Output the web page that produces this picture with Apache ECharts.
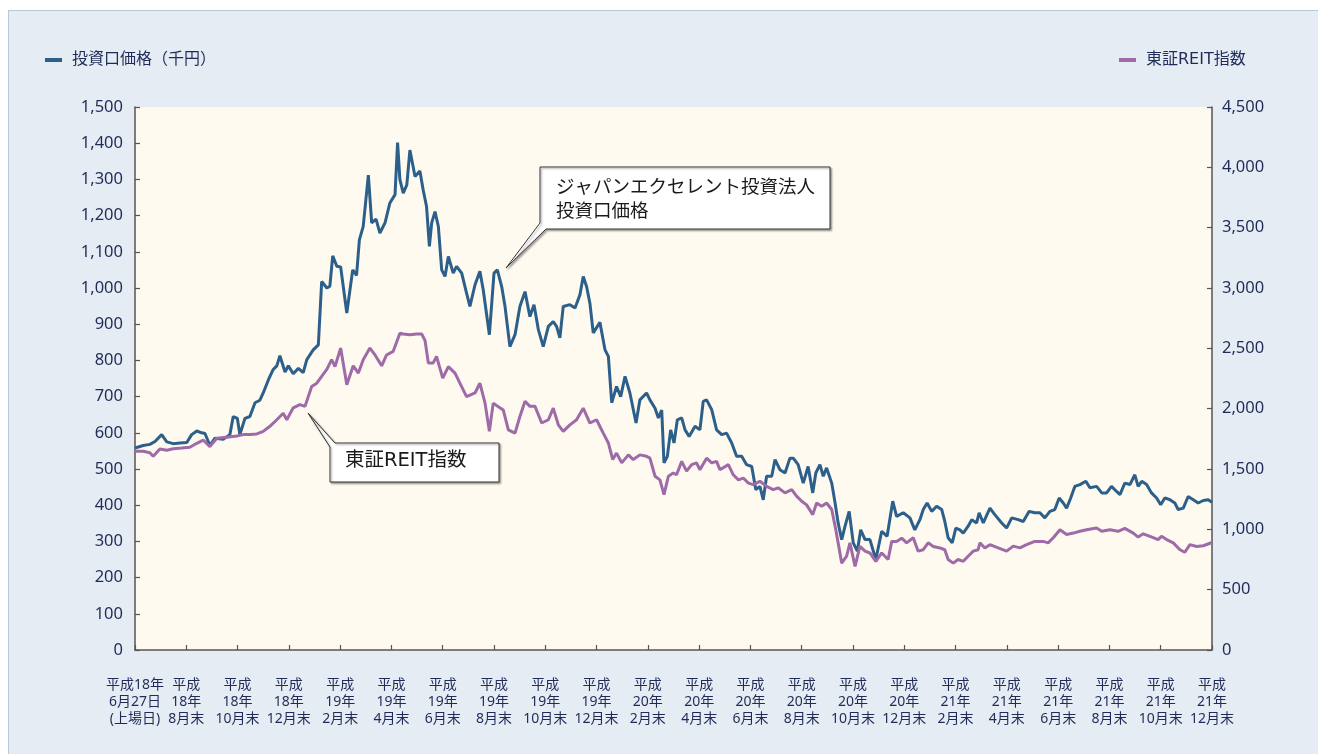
<!DOCTYPE html>
<html>
<head>
<meta charset="utf-8">
<script src="https://cdn.jsdelivr.net/npm/echarts@6/dist/echarts.min.js"></script>
<style>
  html, body { margin: 0; padding: 0; background: #ffffff; }
  #frame {
    position: absolute; left: 8px; top: 10px; width: 1310px; height: 744px;
    background: #e5ecf4; border-left: 1px solid #b9c8d6; border-top: 1px solid #b9c8d6;
    box-sizing: border-box;
  }
  #chart { position: absolute; left: 0; top: 0; width: 1318px; height: 754px; }
</style>
</head>
<body>
<div id="frame"></div>
<div id="chart"></div>
<script>
// x positions are months since listing (6/27); each label is 2 months apart
const xLabels = [
  "平成18年\n6月27日\n(上場日)",
  "平成\n18年\n8月末", "平成\n18年\n10月末", "平成\n18年\n12月末",
  "平成\n19年\n2月末", "平成\n19年\n4月末", "平成\n19年\n6月末", "平成\n19年\n8月末",
  "平成\n19年\n10月末", "平成\n19年\n12月末",
  "平成\n20年\n2月末", "平成\n20年\n4月末", "平成\n20年\n6月末", "平成\n20年\n8月末",
  "平成\n20年\n10月末", "平成\n20年\n12月末",
  "平成\n21年\n2月末", "平成\n21年\n4月末", "平成\n21年\n6月末", "平成\n21年\n8月末",
  "平成\n21年\n10月末", "平成\n21年\n12月末"
];

// 投資口価格 (千円)
const priceData = [
  [0,558],[0.32,565],[0.58,568],[0.78,576],[1.04,595],[1.24,575],[1.49,570],[1.75,572],[2.02,573],
  [2.21,595],[2.41,605],[2.60,600],[2.73,598],[2.92,565],[3.12,585],[3.44,582],[3.70,595],[3.83,645],
  [3.99,640],[4.09,595],[4.29,640],[4.48,645],[4.68,683],[4.87,690],[5.00,710],[5.20,746],[5.39,775],
  [5.53,785],[5.65,813],[5.85,768],[5.98,785],[6.17,763],[6.37,778],[6.56,766],[6.70,802],[6.95,829],
  [7.15,843],[7.28,1018],[7.48,1000],[7.60,1005],[7.71,1089],[7.87,1060],[8.02,1058],[8.26,931],
  [8.49,1050],[8.64,1035],[8.75,1133],[8.90,1170],[9.10,1312],[9.23,1180],[9.40,1190],[9.55,1152],
  [9.75,1180],[9.94,1235],[10.14,1258],[10.24,1402],[10.33,1300],[10.46,1262],[10.60,1285],[10.72,1381],
  [10.92,1308],[11.11,1323],[11.24,1270],[11.37,1225],[11.48,1115],[11.57,1180],[11.70,1211],[11.83,1170],
  [11.96,1050],[12.09,1032],[12.22,1087],[12.41,1041],[12.54,1060],[12.74,1041],[12.93,986],[13.06,949],
  [13.26,1009],[13.45,1046],[13.58,995],[13.82,871],[14.00,1041],[14.13,1050],[14.30,1004],[14.43,949],
  [14.62,838],[14.82,871],[15.01,949],[15.21,990],[15.40,921],[15.56,954],[15.73,885],[15.92,838],
  [16.12,894],[16.31,907],[16.44,894],[16.57,862],[16.70,949],[16.96,954],[17.16,945],[17.35,981],
  [17.48,1032],[17.61,1004],[17.74,958],[17.87,876],[18.13,905],[18.33,829],[18.46,811],[18.59,683],
  [18.78,728],[18.94,700],[19.11,756],[19.30,710],[19.54,627],[19.69,691],[19.95,710],[20.08,691],
  [20.28,668],[20.41,641],[20.54,663],[20.63,517],[20.76,535],[20.89,608],[21.02,572],[21.15,636],
  [21.32,641],[21.45,608],[21.61,590],[21.84,618],[22.03,608],[22.16,687],[22.29,691],[22.49,664],
  [22.68,608],[22.88,595],[23.07,599],[23.27,572],[23.46,535],[23.66,535],[23.85,512],[24.05,507],
  [24.21,443],[24.37,452],[24.50,415],[24.63,480],[24.83,480],[24.96,526],[25.15,498],[25.35,489],
  [25.54,530],[25.67,530],[25.86,512],[26.06,461],[26.25,507],[26.43,434],[26.55,489],[26.71,512],
  [26.84,480],[26.97,503],[27.17,461],[27.30,407],[27.42,351],[27.56,305],[27.69,342],[27.85,383],
  [28.01,296],[28.17,273],[28.30,332],[28.47,305],[28.66,305],[28.89,250],[29.12,328],[29.33,314],
  [29.55,411],[29.70,369],[29.96,379],[30.22,365],[30.41,332],[30.61,360],[30.74,388],[30.89,406],
  [31.07,383],[31.26,397],[31.46,388],[31.58,355],[31.71,310],[31.87,296],[32.01,337],[32.17,332],
  [32.30,323],[32.49,342],[32.63,360],[32.82,351],[32.92,379],[33.08,351],[33.34,392],[33.53,374],
  [33.80,351],[33.99,337],[34.19,365],[34.44,360],[34.64,355],[34.87,383],[35.09,379],[35.29,379],
  [35.48,365],[35.68,383],[35.87,388],[36.04,420],[36.20,406],[36.33,392],[36.49,420],[36.65,452],
  [36.85,457],[37.08,466],[37.24,448],[37.50,452],[37.70,434],[37.89,434],[38.08,452],[38.28,438],
  [38.41,429],[38.60,461],[38.80,457],[38.99,484],[39.12,452],[39.26,466],[39.45,457],[39.64,434],
  [39.84,420],[40.00,401],[40.16,420],[40.36,415],[40.55,406],[40.68,388],[40.88,392],[41.07,424],
  [41.27,415],[41.46,406],[41.66,413],[41.85,415],[42.00,408]
];

// 東証REIT指数
const reitData = [
  [0,1647],[0.32,1647],[0.58,1635],[0.71,1605],[0.97,1665],[1.24,1656],[1.49,1668],[1.82,1674],
  [2.14,1680],[2.41,1713],[2.66,1740],[2.92,1686],[3.19,1755],[3.58,1764],[3.97,1773],[4.22,1785],
  [4.48,1785],[4.75,1791],[5.00,1812],[5.26,1854],[5.53,1908],[5.78,1962],[5.92,1908],[6.17,2007],
  [6.43,2034],[6.63,2019],[6.89,2184],[7.09,2211],[7.28,2268],[7.48,2325],[7.67,2406],[7.80,2349],
  [8.02,2502],[8.26,2199],[8.51,2355],[8.71,2295],[8.90,2406],[9.16,2502],[9.36,2445],[9.62,2355],
  [9.81,2445],[10.07,2475],[10.33,2625],[10.46,2619],[10.72,2613],[10.98,2619],[11.18,2619],[11.31,2565],
  [11.44,2379],[11.63,2379],[11.76,2433],[12.00,2253],[12.22,2349],[12.48,2295],[12.67,2211],[12.93,2100],
  [13.26,2130],[13.45,2211],[13.65,2046],[13.82,1812],[13.97,2046],[14.17,2016],[14.36,1989],[14.56,1824],
  [14.82,1797],[15.01,1935],[15.21,2061],[15.40,2019],[15.60,2019],[15.86,1881],[16.12,1908],[16.31,2004],
  [16.51,1866],[16.70,1812],[16.96,1866],[17.22,1908],[17.48,2004],[17.74,1881],[18.00,1908],[18.26,1797],
  [18.46,1716],[18.63,1578],[18.78,1632],[18.98,1551],[19.24,1617],[19.43,1578],[19.69,1617],[19.95,1605],
  [20.08,1590],[20.28,1440],[20.47,1410],[20.63,1287],[20.80,1440],[20.99,1467],[21.12,1452],[21.32,1563],
  [21.51,1482],[21.71,1536],[21.90,1551],[22.03,1494],[22.29,1590],[22.49,1551],[22.68,1563],[22.81,1494],
  [23.14,1536],[23.33,1452],[23.53,1410],[23.72,1425],[23.92,1383],[24.11,1371],[24.37,1398],[24.63,1356],
  [24.89,1329],[25.08,1344],[25.35,1302],[25.61,1329],[25.80,1275],[26.00,1233],[26.19,1203],[26.43,1122],
  [26.58,1218],[26.78,1191],[26.97,1218],[27.17,1164],[27.33,996],[27.56,720],[27.75,777],[27.88,888],
  [28.08,693],[28.27,858],[28.47,819],[28.66,804],[28.89,735],[29.12,804],[29.37,750],[29.51,900],
  [29.70,900],[29.90,927],[30.09,888],[30.35,930],[30.54,819],[30.74,831],[30.93,888],[31.13,858],
  [31.39,846],[31.58,831],[31.71,750],[31.91,720],[32.10,750],[32.30,735],[32.49,777],[32.69,819],
  [32.88,831],[32.95,888],[33.14,846],[33.34,873],[33.66,846],[33.99,819],[34.25,861],[34.51,846],
  [34.77,873],[35.09,900],[35.42,900],[35.61,888],[35.81,930],[36.07,996],[36.33,957],[36.59,969],
  [36.85,984],[37.11,996],[37.50,1011],[37.70,984],[38.02,996],[38.34,984],[38.60,1008],[38.93,969],
  [39.12,936],[39.32,963],[39.58,942],[39.90,915],[40.03,942],[40.23,915],[40.49,888],[40.75,831],
  [40.94,810],[41.14,873],[41.40,858],[41.66,864],[42.00,891]
];

const textColor = "#1f2b58";
const axisColor = "#555555";
const fontFamily = '"Noto Sans", "Noto Sans CJK JP", sans-serif';
const wideFont = '"DejaVu Sans", "Noto Sans CJK JP", sans-serif';

var myChart = echarts.init(document.getElementById("chart"), null, { renderer: "canvas" });

const legendBase = {
  icon: "rect",
  itemWidth: 17,
  itemHeight: 4,
  top: 47,
  selectedMode: false,
  textStyle: { color: textColor, fontSize: 16, fontFamily: wideFont, padding: [0, 0, 0, 5] },
};

const axisLineStyle = { show: true, lineStyle: { color: axisColor, width: 1.5 } };
const tickStyle = { show: true, inside: true, length: 5, lineStyle: { color: axisColor, width: 1.2 } };

const option = {
  animation: false,
  textStyle: { fontFamily: fontFamily },
  legend: [
    Object.assign({}, legendBase, { left: 40, data: ["投資口価格（千円）"] }),
    Object.assign({}, legendBase, { left: 1114, data: ["東証REIT指数"] }),
  ],
  grid: {
    left: 135,
    right: 106,
    top: 107,
    bottom: 104,
    show: true,
    backgroundColor: "#fffaef",
    borderWidth: 0,
  },
  xAxis: {
    type: "value",
    min: 0,
    max: 42,
    interval: 2,
    axisLine: axisLineStyle,
    axisTick: tickStyle,
    splitLine: { show: false },
    axisLabel: {
      color: textColor,
      fontSize: 14,
      lineHeight: 17,
      margin: 27,
      showMinLabel: true,
      showMaxLabel: true,
      hideOverlap: false,
      fontFamily: fontFamily,
      formatter: function (v) {
        return xLabels[Math.round(v / 2)] || "";
      },
    },
  },
  yAxis: [
    {
      type: "value",
      position: "left",
      min: 0,
      max: 1500,
      interval: 100,
      axisLine: axisLineStyle,
      axisTick: tickStyle,
      splitLine: { show: false },
      axisLabel: {
        color: textColor,
        fontSize: 16.5,
        margin: 12,
        formatter: function (v) { return v.toLocaleString("en-US"); },
      },
    },
    {
      type: "value",
      position: "right",
      min: 0,
      max: 4500,
      interval: 500,
      axisLine: axisLineStyle,
      axisTick: tickStyle,
      splitLine: { show: false },
      axisLabel: {
        color: textColor,
        fontSize: 16.5,
        margin: 10,
        formatter: function (v) { return v.toLocaleString("en-US"); },
      },
    },
  ],
  series: [
    {
      name: "投資口価格（千円）",
      type: "line",
      yAxisIndex: 0,
      showSymbol: false,
      color: "#2c5f8a",
      lineStyle: { color: "#2c5f8a", width: 3 },
      data: priceData,
      z: 2,
    },
    {
      name: "東証REIT指数",
      type: "line",
      yAxisIndex: 1,
      showSymbol: false,
      color: "#9e6aa7",
      lineStyle: { color: "#9e6aa7", width: 3 },
      data: reitData,
      z: 3,
    },
  ],
  graphic: [
    {
      type: "polygon",
      z: 100,
      shape: { points: [[540, 167], [830, 167], [830, 229], [546, 229], [506, 268], [540, 223]] },
      style: {
        fill: "#ffffff", stroke: "#333333", lineWidth: 1,
        shadowBlur: 2, shadowOffsetX: 1.5, shadowOffsetY: 1.5, shadowColor: "rgba(0,0,0,0.35)",
      },
    },
    {
      type: "text",
      z: 101,
      x: 556,
      y: 174,
      style: {
        text: "ジャパンエクセレント投資法人\n投資口価格",
        fontSize: 18.5,
        lineHeight: 24,
        fontFamily: '"Noto Sans CJK JP", sans-serif',
        fill: "#1a1a1a",
      },
    },
    {
      type: "polygon",
      z: 100,
      shape: { points: [[308, 413], [335, 443], [499, 443], [499, 482], [330, 482], [330, 447]] },
      style: {
        fill: "#ffffff", stroke: "#333333", lineWidth: 1,
        shadowBlur: 2, shadowOffsetX: 1.5, shadowOffsetY: 1.5, shadowColor: "rgba(0,0,0,0.35)",
      },
    },
    {
      type: "text",
      z: 101,
      x: 345,
      y: 451,
      style: {
        text: "東証REIT指数",
        fontSize: 19.5,
        fontFamily: wideFont,
        fill: "#1a1a1a",
      },
    },
  ],
};

option && myChart.setOption(option);
</script>
</body>
</html>
